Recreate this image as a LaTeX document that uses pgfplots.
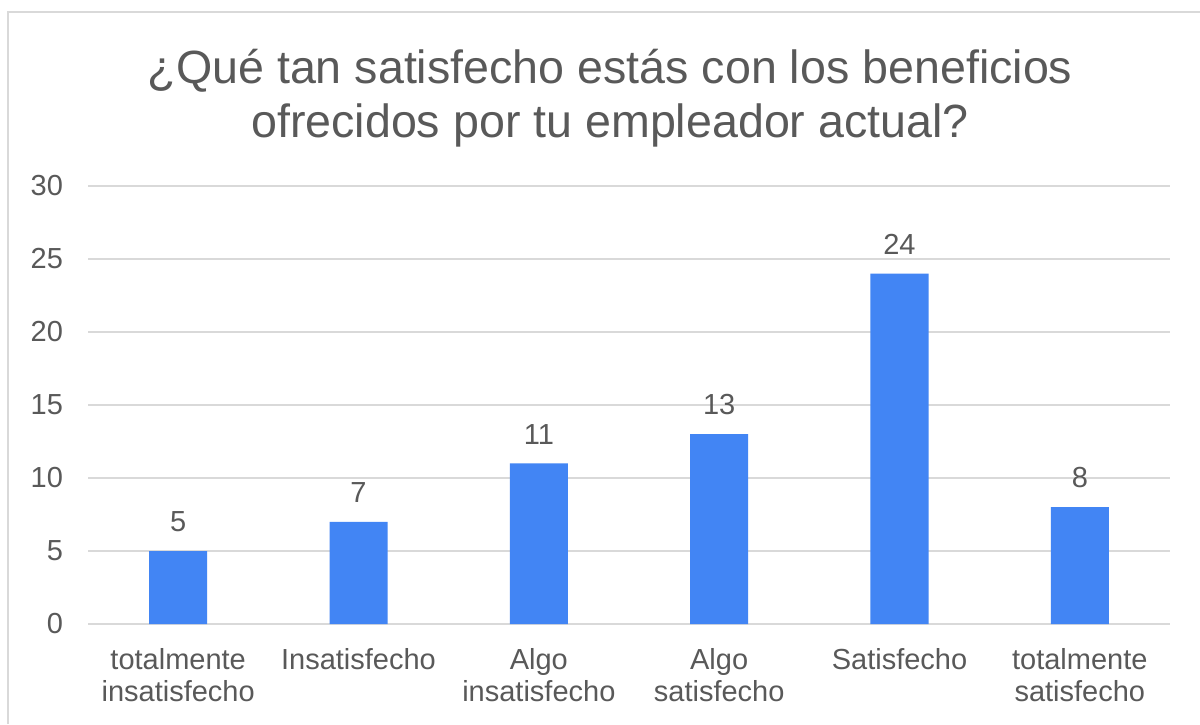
\documentclass[border=0pt]{standalone}
\usepackage{fontspec}
\setmainfont{Liberation Sans}
\usepackage{pgfplots}
\pgfplotsset{compat=1.18}
\definecolor{barblue}{HTML}{4285F4}
\definecolor{txtgray}{HTML}{595959}
\definecolor{gridgray}{HTML}{D9D9D9}
\begin{document}
\begin{tikzpicture}
\useasboundingbox (0pt,0pt) rectangle (600pt,362pt);
\fill[white] (0pt,0pt) rectangle (600pt,362pt);
\draw[gridgray,line width=1.2pt] (4pt,0pt) -- (4pt,356pt) -- (600pt,356pt);
\node[txtgray,font=\fontsize{23.3}{27}\selectfont,align=center] at (305pt,313pt) {¿Qué tan satisfecho estás con los beneficios\\ofrecidos por tu empleador actual?};
\begin{axis}[
  at={(44pt,50pt)}, anchor=south west,
  scale only axis, width=541pt, height=219pt,
  xmin=-0.5, xmax=5.5, ymin=0, ymax=30,
  ytick={0,5,...,30},
  xtick={0,...,5},
  xticklabels={{totalmente\\insatisfecho},Insatisfecho,{Algo\\insatisfecho},{Algo\\satisfecho},Satisfecho,{totalmente\\satisfecho}},
  xticklabel style={align=center,font=\fontsize{14.5}{16}\selectfont,text=txtgray,yshift=-8.5pt},
  yticklabel style={font=\fontsize{14.5}{16}\selectfont,text=txtgray,xshift=-9pt},
  /pgf/number format/assume math mode=true,
  axis line style={draw=none},
  axis x line*=bottom,
  major tick length=0pt,
  ymajorgrids, grid style={gridgray,line width=1pt},
  ybar, bar width=29pt,
  nodes near coords,
  every node near coord/.append style={font=\fontsize{14.5}{16}\selectfont,text=txtgray,yshift=6pt},
  clip=false,
]
\addplot[fill=barblue,draw=none] coordinates {(0,5) (1,7) (2,11) (3,13) (4,24) (5,8)};
\end{axis}
\end{tikzpicture}
\end{document}
